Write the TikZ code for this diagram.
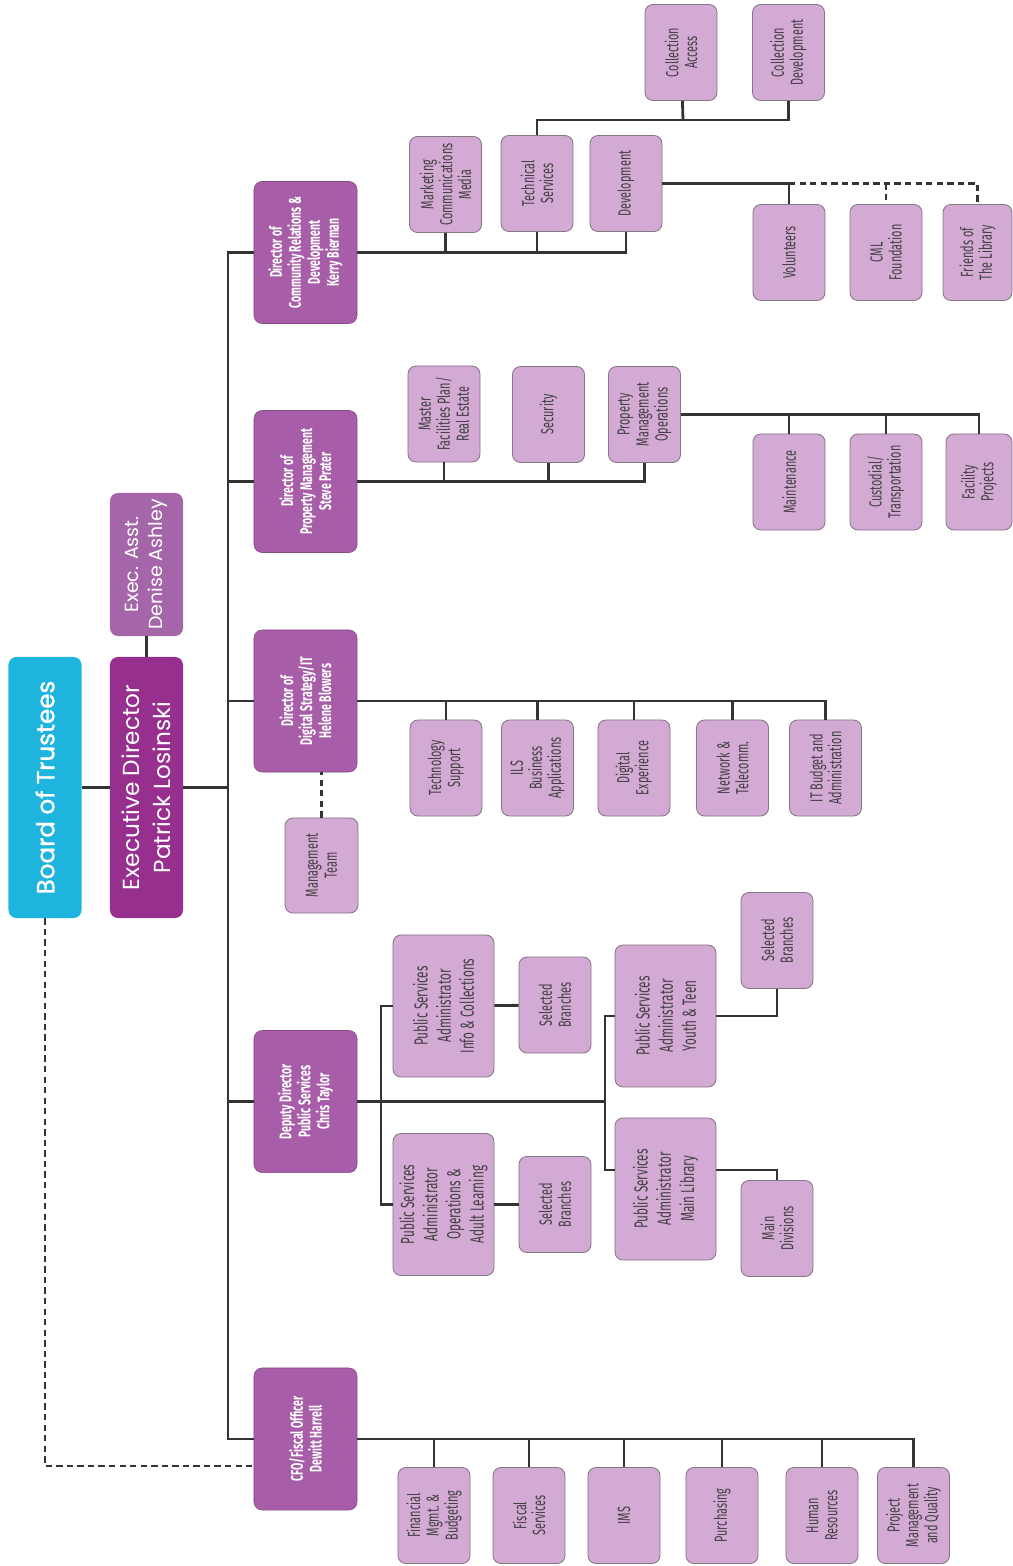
\documentclass[tikz,border=0pt]{standalone}
\usepackage{fontspec}
\usepackage{tikz}
\usetikzlibrary{calc}
\newfontfamily\headfont{Poppins}
\newfontfamily\boardfont[FakeBold=1.2]{Poppins}
\newfontfamily\unitfont[FakeStretch=0.62]{Fira Sans}
\definecolor{boardfill}{HTML}{1FB4DE}
\definecolor{execfill}{HTML}{972F8F}
\definecolor{asstfill}{HTML}{A566A9}
\definecolor{dirfill}{HTML}{A75DA7}
\definecolor{unitfill}{HTML}{D3AAD3}
\definecolor{unitline}{HTML}{857585}
\definecolor{unittext}{HTML}{454045}
\definecolor{linegray}{HTML}{333333}

\begin{document}
\begin{tikzpicture}[x=0.025cm, y=-0.025cm,
            box/.style={rounded corners=0.2cm, rotate=90, align=center, inner sep=1pt},
            topbox/.style={box, minimum width=6.525cm, minimum height=1.825cm, text=white,
                font=\headfont\fontsize{16.5}{22}\selectfont},
            director/.style={box, fill=dirfill, draw=dirfill!80!black, line width=0.4pt,
                minimum width=3.55cm, minimum height=2.575cm, text=white,
                font=\unitfont\bfseries\fontsize{12}{13.5}\selectfont},
            unit/.style={box, fill=unitfill, draw=unitline, line width=0.6pt,
                minimum width=2.4cm, minimum height=1.8cm, text=unittext,
                font=\unitfont\fontsize{12.5}{13.5}\selectfont},
            psunit/.style={unit, minimum width=3.55cm, minimum height=2.525cm,
                font=\unitfont\fontsize{13.5}{16.5}\selectfont},
            link/.style={draw=linegray, line width=2pt},
            dashlink/.style={link, dash pattern=on 4.5pt off 3pt}]
            \useasboundingbox (0,0) rectangle (1013,1566);

            % top of the chart
            \node[topbox, fill=boardfill, font=\boardfont\fontsize{17.5}{22}\selectfont] (board) at (45,787.5) {Board of Trustees};
            \node[topbox, fill=execfill] (exec) at (146.5,787.5) {Executive Director\\Patrick Losinski};
            \node[topbox, fill=asstfill, minimum width=3.575cm, font=\headfont\fontsize{13.5}{17}\selectfont]
                (asst) at (146.5,564.5) {Exec. Asst.\\Denise Ashley};

            % directors
            \node[director] (comm) at (305.5,252.5) {Director of\\Community Relations \&\\Development\\Kerry Bierman};
            \node[director] (prop) at (305.5,481.5) {Director of\\Property Management\\Steve Prater};
            \node[director] (digi) at (305.5,701) {Director of\\Digital Strategy/IT\\Helene Blowers};
            \node[director] (depu) at (305.5,1101.5) {Deputy Director\\Public Services\\Chris Taylor};
            \node[director] (cfo) at (305.5,1439) {CFO/Fiscal Officer\\Dewitt Harrell};
            \node[unit, minimum width=2.375cm, minimum height=1.825cm] (mgmt) at (321.5,865.5) {Management\\Team};

            % community relations & development
            \node[unit] (cacc) at (681,52.5) {Collection\\Access};
            \node[unit] (cdev) at (788.5,52.5) {Collection\\Development};
            \node[unit] (mkt) at (445.5,184.5) {Marketing\\Communications\\Media};
            \node[unit] (tech) at (537,183.5) {Technical\\Services};
            \node[unit] (devt) at (626,183.5) {Development};
            \node[unit] (volun) at (789,252.5) {Volunteers};
            \node[unit] (cmlf) at (886,252.5) {CML\\Foundation};
            \node[unit, minimum height=1.725cm] (frnd) at (977.5,252.5) {Friends of\\The Library};

            % property management
            \node[unit] (mfp) at (444,414) {Master\\Facilities Plan/\\Real Estate};
            \node[unit] (secu) at (548.5,414.5) {Security};
            \node[unit] (pmo) at (644.5,414.5) {Property\\Management\\Operations};
            \node[unit] (mant) at (789,482) {Maintenance};
            \node[unit] (cust) at (886,482) {Custodial/\\Transportation};
            \node[unit, minimum height=1.65cm] (fpro) at (979,482) {Facility\\Projects};

            % digital strategy
            \node[unit] (tsup) at (446,768) {Technology\\Support};
            \node[unit] (ils) at (537.5,768) {ILS\\Business\\Applications};
            \node[unit] (dexp) at (634,768) {Digital\\Experience};
            \node[unit] (netw) at (732.5,768) {Network \&\\Telecomm.};
            \node[unit] (itba) at (825.5,768) {IT Budget and\\Administration};

            % public services
            \node[psunit] (psinfo) at (443.5,1006) {Public Services\\Administrator\\Info \& Collections};
            \node[unit] (sbr1) at (555,1005) {Selected\\Branches};
            \node[psunit] (psops) at (443.5,1204.5) {Public Services\\Administrator\\Operations \&\\Adult Learning};
            \node[unit] (sbr2) at (555,1204.5) {Selected\\Branches};
            \node[psunit] (psyouth) at (665.5,1016) {Public Services\\Administrator\\Youth \& Teen};
            \node[unit] (sbr3) at (777,940.5) {Selected\\Branches};
            \node[psunit] (psmain) at (665.5,1189) {Public Services\\Administrator\\Main Library};
            \node[unit] (mdiv) at (777,1228.5) {Main\\Divisions};

            % fiscal
            \node[unit] (fmb) at (434,1515.5) {Financial\\Mgmt. \&\\Budgeting};
            \node[unit] (fisc) at (529,1515.5) {Fiscal\\Services};
            \node[unit] (ims) at (624,1515.5) {IMS};
            \node[unit] (purc) at (722,1515.5) {Purchasing};
            \node[unit] (hres) at (822,1515.5) {Human\\Resources};
            \node[unit] (pmq) at (913.5,1515.5) {Project\\Management\\and Quality};

            \coordinate (trunk) at (228,787.5);
            \coordinate (colbar) at (683,120);
            \coordinate (psl) at (381,1101.5);
            \coordinate (psr) at (605,1101.5);
            \coordinate (mainl) at (615,1170);
            \coordinate (mainr) at (716,1170);

            \draw[link] (board) -- (exec);
            \draw[link] (asst) -- (exec);
            \draw[link] (exec) -- (trunk);
            \draw[link] (comm) -| (trunk);% trunk up
            \draw[link] (prop) -| (trunk);
            \draw[link] (digi) -| (trunk);
            \draw[link] (depu) -| (trunk);
            \draw[link] (cfo) -| (trunk);% trunk down
            \draw[dashlink] (board) |- ([yshift=-0.675cm]cfo.north);
            \draw[dashlink] (mgmt) -- (mgmt |- digi.west);

            \draw[link] (comm) -| (mkt);
            \draw[link] (comm) -| (tech);
            \draw[link] (comm) -| (devt);
            \draw[link] (tech) |- (colbar) -| (cdev);
            \draw[link] (colbar) -- (cacc);
            \draw[link] (devt) -| (volun);
            \draw[dashlink] (volun |- devt) -- (frnd |- devt) -- (frnd);
            \draw[dashlink] (cmlf |- devt) -- (cmlf);

            \draw[link] (prop) -| (mfp);
            \draw[link] (prop) -| (secu);
            \draw[link] (prop) -| (pmo);
            \draw[link] (pmo) -| (mant);
            \draw[link] (pmo) -| (cust);
            \draw[link] (pmo) -| (fpro);

            \draw[link] (digi) -| (tsup);
            \draw[link] (digi) -| (ils);
            \draw[link] (digi) -| (dexp);
            \draw[link] (digi) -| (netw);
            \draw[link] (digi) -| (itba);

            \draw[link] (depu) -- (psr);
            \draw[link] (psinfo) -| (psl) |- (psops);
            \draw[link] (psinfo) -- (sbr1);
            \draw[link] (psops) -- (sbr2);
            \draw[link] (psyouth) -| (psr) |- (mainl);
            \draw[link] (psyouth) -| (sbr3);
            \draw[link] (mainr) -| (mdiv);

            \draw[link] (cfo) -| (fmb);
            \draw[link] (cfo) -| (fisc);
            \draw[link] (cfo) -| (ims);
            \draw[link] (cfo) -| (purc);
            \draw[link] (cfo) -| (hres);
            \draw[link] (cfo) -| (pmq);
        \end{tikzpicture}
\end{document}
